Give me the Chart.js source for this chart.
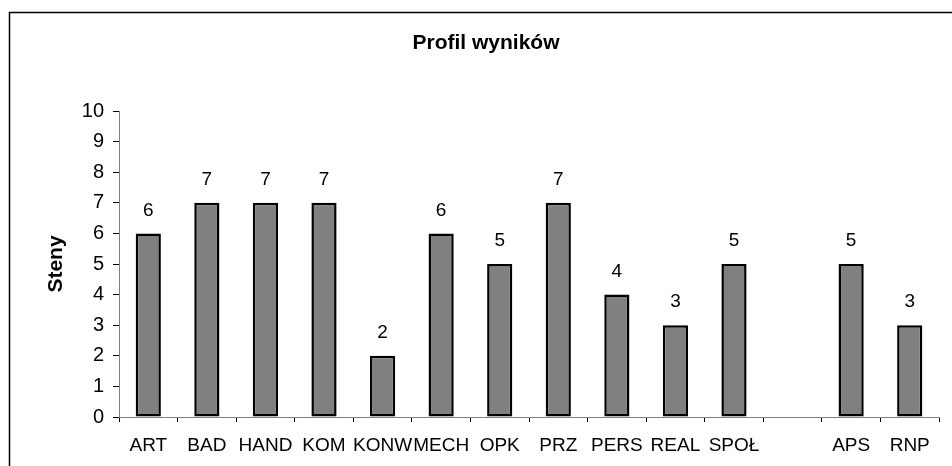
<!DOCTYPE html>
<html>
<head>
<meta charset="utf-8">
<script src="https://cdn.jsdelivr.net/npm/chart.js@4/dist/chart.umd.min.js"></script>
<style>
  html, body { margin: 0; padding: 0; background: #fff; }
  #wrap { width: 952px; height: 466px; }
</style>
</head>
<body>
<div id="wrap"><canvas id="chart" width="952" height="466"></canvas></div>
<script>
// data
var categories = ['ART', 'BAD', 'HAND', 'KOM', 'KONW', 'MECH', 'OPK', 'PRZ', 'PERS', 'REAL', 'SPOŁ', '', 'APS', 'RNP'];
var steny = [6, 7, 7, 7, 2, 6, 5, 7, 4, 3, 5, null, 5, 3];
var chartTitle = 'Profil wyników';
var yTitle = 'Steny';
var yMin = 0, yMax = 10, yStep = 1;

var FONT = '"Liberation Sans", Arial, sans-serif';

// frame round the whole chart + title text
var framePlugin = {
    id: 'frame',
    beforeDraw: function(chart) {
        var ctx = chart.ctx;
        ctx.save();
        ctx.fillStyle = '#fff';
        ctx.fillRect(0, 0, chart.width, chart.height);
        ctx.strokeStyle = '#000';
        ctx.lineWidth = 1.5;
        ctx.strokeRect(9.5, 12.5, 1000, 1000);
        ctx.restore();
    },
    afterDraw: function(chart) {
        var ctx = chart.ctx;
        ctx.save();
        ctx.fillStyle = '#000';
        ctx.font = 'bold 21px ' + FONT;
        ctx.textAlign = 'center';
        ctx.textBaseline = 'middle';
        ctx.fillText(chartTitle, 486, 43);
        ctx.restore();
    }
};

// value labels above the bars
var valuePlugin = {
    id: 'values',
    afterDatasetsDraw: function(chart) {
        var ctx = chart.ctx;
        var meta = chart.getDatasetMeta(0);
        ctx.save();
        ctx.fillStyle = '#000';
        ctx.font = '19px ' + FONT;
        ctx.textAlign = 'center';
        ctx.textBaseline = 'middle';
        meta.data.forEach(function(bar, i) {
            var v = steny[i];
            if (v === null || v === undefined) return;
            ctx.fillText(String(v), bar.x, bar.y - 23);
        });
        ctx.restore();
    }
};

var ctx = document.getElementById('chart').getContext('2d');
var myChart = new Chart(ctx, {
    type: 'bar',
    data: {
        labels: categories,
        datasets: [{
            data: steny,
            backgroundColor: '#808080',
            borderColor: '#000',
            borderWidth: 2.5,
            borderSkipped: false,
            barPercentage: 0.43,
            categoryPercentage: 1
        }]
    },
    options: {
        responsive: false,
        animation: false,
        events: [],
        layout: { padding: { left: 0, top: 111, right: 13, bottom: 0 } },
        plugins: {
            legend: { display: false },
            title: { display: false },
            tooltip: { enabled: false }
        },
        scales: {
            x: {
                offset: true,
                grid: {
                    offset: true,
                    drawOnChartArea: false,
                    color: '#808080',
                    tickLength: 5,
                    tickColor: '#000'
                },
                border: { color: '#808080', width: 1 },
                ticks: {
                    autoSkip: false,
                    maxRotation: 0,
                    minRotation: 0,
                    padding: 12,
                    color: '#000',
                    font: { family: FONT, size: 19 }
                },
                afterFit: function(scale) { scale.height = 49; }
            },
            y: {
                min: yMin,
                max: yMax,
                grid: {
                    drawOnChartArea: false,
                    tickLength: 6,
                    tickColor: '#000'
                },
                border: { color: '#808080', width: 1 },
                ticks: {
                    stepSize: yStep,
                    padding: 9,
                    color: '#000',
                    font: { family: FONT, size: 20 }
                },
                title: {
                    display: true,
                    text: yTitle,
                    color: '#000',
                    font: { family: FONT, size: 21, weight: 'bold' },
                    padding: { top: 44, bottom: 0 }
                },
                afterFit: function(scale) { scale.width = 119; }
            }
        }
    },
    plugins: [framePlugin, valuePlugin]
});
</script>
</body>
</html>
